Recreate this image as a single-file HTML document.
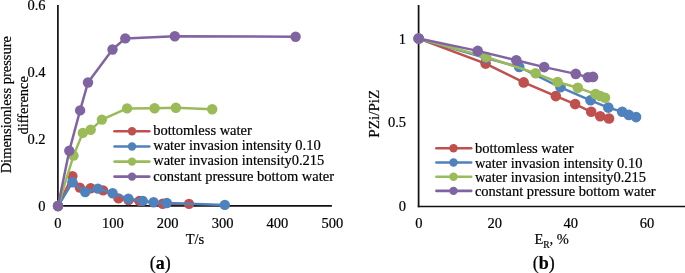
<!DOCTYPE html>
<html><head><meta charset="utf-8"><style>
html,body{margin:0;padding:0;background:#fff;}
svg{display:block;}
text{font-family:"Liberation Serif", serif;font-size:14.5px;fill:#000;stroke:#000;stroke-width:0.2px;}
svg{will-change:transform;}
</style></head><body>
<svg width="685" height="273" viewBox="0 0 685 273">
<line x1="57.9" y1="5.0" x2="57.9" y2="206.65" stroke="#111" stroke-width="1.7"/>
<line x1="57.05" y1="205.8" x2="331.9" y2="205.8" stroke="#111" stroke-width="1.7"/>
<text x="45.5" y="10.35" text-anchor="end">0.6</text>
<text x="45.5" y="76.89999999999999" text-anchor="end">0.4</text>
<text x="45.5" y="143.75" text-anchor="end">0.2</text>
<text x="45.5" y="210.65" text-anchor="end">0</text>
<text x="57.90" y="227.8" text-anchor="middle">0</text>
<text x="112.77" y="227.8" text-anchor="middle">100</text>
<text x="167.64" y="227.8" text-anchor="middle">200</text>
<text x="222.51" y="227.8" text-anchor="middle">300</text>
<text x="277.38" y="227.8" text-anchor="middle">400</text>
<text x="332.25" y="227.8" text-anchor="middle">500</text>
<text x="195" y="243.8" text-anchor="middle">T/s</text>
<text x="160.3" y="269.4" text-anchor="middle" style="font-size:18px">(<tspan style="font-weight:bold">a</tspan>)</text>
<text transform="translate(11,104.7) rotate(-90)" text-anchor="middle">Dimensionless pressure</text>
<text transform="translate(27.5,105.3) rotate(-90)" text-anchor="middle">difference</text>
<polyline points="58,206 72.4,176.1 79.8,187.6 90.7,188.3 103.1,190.4 118.5,198.4 128.5,200 139.4,200.9 162.7,203.7 189,203.9" fill="none" stroke="#C0504D" stroke-width="2.5" stroke-linejoin="round"/>
<g fill="#C0504D"><circle cx="58" cy="206" r="5.2"/><circle cx="72.4" cy="176.1" r="5.2"/><circle cx="79.8" cy="187.6" r="5.2"/><circle cx="90.7" cy="188.3" r="5.2"/><circle cx="103.1" cy="190.4" r="5.2"/><circle cx="118.5" cy="198.4" r="5.2"/><circle cx="128.5" cy="200" r="5.2"/><circle cx="139.4" cy="200.9" r="5.2"/><circle cx="162.7" cy="203.7" r="5.2"/><circle cx="189" cy="203.9" r="5.2"/></g>
<polyline points="58,206 72.4,182.3 85.2,192.0 97.9,188.6 112.6,193.2 128.4,198.6 142.8,200.9 153.6,202.3 166.8,203.0 224.8,204.9" fill="none" stroke="#4F81BD" stroke-width="2.5" stroke-linejoin="round"/>
<g fill="#4F81BD"><circle cx="58" cy="206" r="5.2"/><circle cx="72.4" cy="182.3" r="5.2"/><circle cx="85.2" cy="192.0" r="5.2"/><circle cx="97.9" cy="188.6" r="5.2"/><circle cx="112.6" cy="193.2" r="5.2"/><circle cx="128.4" cy="198.6" r="5.2"/><circle cx="142.8" cy="200.9" r="5.2"/><circle cx="153.6" cy="202.3" r="5.2"/><circle cx="166.8" cy="203.0" r="5.2"/><circle cx="224.8" cy="204.9" r="5.2"/></g>
<polyline points="58,206 73.5,155.6 82.8,132.9 90.7,129.8 101.9,119.6 127.1,108.4 154.6,108.2 175.9,107.7 212.2,109.2" fill="none" stroke="#9BBB59" stroke-width="2.5" stroke-linejoin="round"/>
<g fill="#9BBB59"><circle cx="58" cy="206" r="5.2"/><circle cx="73.5" cy="155.6" r="5.2"/><circle cx="82.8" cy="132.9" r="5.2"/><circle cx="90.7" cy="129.8" r="5.2"/><circle cx="101.9" cy="119.6" r="5.2"/><circle cx="127.1" cy="108.4" r="5.2"/><circle cx="154.6" cy="108.2" r="5.2"/><circle cx="175.9" cy="107.7" r="5.2"/><circle cx="212.2" cy="109.2" r="5.2"/></g>
<polyline points="58,206 69.3,150.8 80.1,110.4 88.0,82.5 112.5,49.5 125.3,38.4 174.8,36.3 295.6,36.7" fill="none" stroke="#8064A2" stroke-width="2.5" stroke-linejoin="round"/>
<g fill="#8064A2"><circle cx="58" cy="206" r="5.2"/><circle cx="69.3" cy="150.8" r="5.2"/><circle cx="80.1" cy="110.4" r="5.2"/><circle cx="88.0" cy="82.5" r="5.2"/><circle cx="112.5" cy="49.5" r="5.2"/><circle cx="125.3" cy="38.4" r="5.2"/><circle cx="174.8" cy="36.3" r="5.2"/><circle cx="295.6" cy="36.7" r="5.2"/></g>
<line x1="114.5" y1="131.3" x2="149.29999999999998" y2="131.3" stroke="#C0504D" stroke-width="2.6" stroke-linecap="round"/>
<circle cx="132" cy="131.3" r="4.2" fill="#C0504D"/>
<text x="153.2" y="135.4">bottomless water</text>
<line x1="114.5" y1="146.5" x2="149.29999999999998" y2="146.5" stroke="#4F81BD" stroke-width="2.6" stroke-linecap="round"/>
<circle cx="132" cy="146.5" r="4.2" fill="#4F81BD"/>
<text x="153.2" y="150.4">water invasion intensity 0.10</text>
<line x1="114.5" y1="161.6" x2="149.29999999999998" y2="161.6" stroke="#9BBB59" stroke-width="2.6" stroke-linecap="round"/>
<circle cx="132" cy="161.6" r="4.2" fill="#9BBB59"/>
<text x="153.2" y="165.3">water invasion intensity0.215</text>
<line x1="114.5" y1="176.6" x2="149.29999999999998" y2="176.6" stroke="#8064A2" stroke-width="2.6" stroke-linecap="round"/>
<circle cx="132" cy="176.6" r="4.2" fill="#8064A2"/>
<text x="153.2" y="180.7">constant pressure bottom water</text>
<line x1="418.6" y1="5.0" x2="418.6" y2="207.25" stroke="#111" stroke-width="1.75"/>
<line x1="417.75" y1="206.45" x2="685" y2="206.45" stroke="#111" stroke-width="1.6"/>
<text x="406" y="44.050000000000004" text-anchor="end">1</text>
<text x="406" y="127.14999999999999" text-anchor="end">0.5</text>
<text x="406" y="211.15" text-anchor="end">0</text>
<text x="418.75" y="227.8" text-anchor="middle">0</text>
<text x="494.80" y="227.8" text-anchor="middle">20</text>
<text x="570.85" y="227.8" text-anchor="middle">40</text>
<text x="646.90" y="227.8" text-anchor="middle">60</text>
<text x="534.4" y="244.2">E<tspan style="font-size:9.5px" dy="4">R</tspan><tspan dy="-4">, %</tspan></text>
<text x="543.8" y="268.9" text-anchor="middle" style="font-size:18px">(<tspan style="font-weight:bold">b</tspan>)</text>
<text transform="translate(378.7,113.7) rotate(-90)" text-anchor="middle" style="font-size:15.2px">PZi/PiZ</text>
<polyline points="418.7,38.5 485.6,63.6 523.7,82.4 555.8,96.1 575.1,104.1 591.2,111.8 600.2,116.3 609.0,118.5" fill="none" stroke="#C0504D" stroke-width="2.5" stroke-linejoin="round"/>
<g fill="#C0504D"><circle cx="418.7" cy="38.5" r="5.3"/><circle cx="485.6" cy="63.6" r="5.3"/><circle cx="523.7" cy="82.4" r="5.3"/><circle cx="555.8" cy="96.1" r="5.3"/><circle cx="575.1" cy="104.1" r="5.3"/><circle cx="591.2" cy="111.8" r="5.3"/><circle cx="600.2" cy="116.3" r="5.3"/><circle cx="609.0" cy="118.5" r="5.3"/></g>
<polyline points="418.7,38.5 486,58 519.2,67.0 560.5,87.3 590.5,100.3 608.3,107.6 622.2,111.7 628.8,114.9 636.1,117.1" fill="none" stroke="#4F81BD" stroke-width="2.5" stroke-linejoin="round"/>
<g fill="#4F81BD"><circle cx="418.7" cy="38.5" r="5.3"/><circle cx="486" cy="58" r="5.3"/><circle cx="519.2" cy="67.0" r="5.3"/><circle cx="560.5" cy="87.3" r="5.3"/><circle cx="590.5" cy="100.3" r="5.3"/><circle cx="608.3" cy="107.6" r="5.3"/><circle cx="622.2" cy="111.7" r="5.3"/><circle cx="628.8" cy="114.9" r="5.3"/><circle cx="636.1" cy="117.1" r="5.3"/></g>
<polyline points="418.7,38.5 486.1,57.0 535.6,73.3 557.6,82.0 577.8,87.7 595.5,94.1 600.2,96.0 605,97.8" fill="none" stroke="#9BBB59" stroke-width="2.5" stroke-linejoin="round"/>
<g fill="#9BBB59"><circle cx="418.7" cy="38.5" r="5.3"/><circle cx="486.1" cy="57.0" r="5.3"/><circle cx="535.6" cy="73.3" r="5.3"/><circle cx="557.6" cy="82.0" r="5.3"/><circle cx="577.8" cy="87.7" r="5.3"/><circle cx="595.5" cy="94.1" r="5.3"/><circle cx="600.2" cy="96.0" r="5.3"/><circle cx="605" cy="97.8" r="5.3"/></g>
<polyline points="418.7,38.5 477.7,50.9 516.3,60.2 544.2,67.1 575.8,73.9 588,77.3 593,76.9" fill="none" stroke="#8064A2" stroke-width="2.5" stroke-linejoin="round"/>
<g fill="#8064A2"><circle cx="418.7" cy="38.5" r="5.3"/><circle cx="477.7" cy="50.9" r="5.3"/><circle cx="516.3" cy="60.2" r="5.3"/><circle cx="544.2" cy="67.1" r="5.3"/><circle cx="575.8" cy="73.9" r="5.3"/><circle cx="588" cy="77.3" r="5.3"/><circle cx="593" cy="76.9" r="5.3"/></g>
<line x1="436.40000000000003" y1="148.3" x2="471.2" y2="148.3" stroke="#C0504D" stroke-width="2.6" stroke-linecap="round"/>
<circle cx="453.5" cy="148.3" r="4.2" fill="#C0504D"/>
<text x="474.9" y="152.8">bottomless water</text>
<line x1="436.40000000000003" y1="162.5" x2="471.2" y2="162.5" stroke="#4F81BD" stroke-width="2.6" stroke-linecap="round"/>
<circle cx="453.5" cy="162.5" r="4.2" fill="#4F81BD"/>
<text x="474.9" y="167.5">water invasion intensity 0.10</text>
<line x1="436.40000000000003" y1="176.8" x2="471.2" y2="176.8" stroke="#9BBB59" stroke-width="2.6" stroke-linecap="round"/>
<circle cx="453.5" cy="176.8" r="4.2" fill="#9BBB59"/>
<text x="474.9" y="181.8">water invasion intensity0.215</text>
<line x1="436.40000000000003" y1="190.9" x2="471.2" y2="190.9" stroke="#8064A2" stroke-width="2.6" stroke-linecap="round"/>
<circle cx="453.5" cy="190.9" r="4.2" fill="#8064A2"/>
<text x="474.9" y="195.9">constant pressure bottom water</text>
</svg>
</body></html>
